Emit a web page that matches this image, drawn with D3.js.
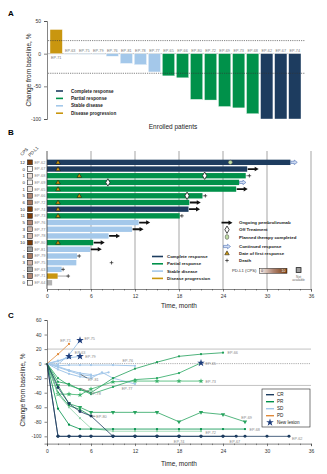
<!DOCTYPE html>
<html>
<head>
<meta charset="utf-8">
<script src="https://cdn.jsdelivr.net/npm/d3@7"></script>
<style>
  body { margin: 0; background: #fff; }
  svg { font-family: "Liberation Sans", Arial, sans-serif; }
</style>
</head>
<body>
<svg id="chart" width="327" height="474"></svg>
<script>
// Best change in target lesions, one bar per patient
const waterfallIds = ["EP-71", "EP-63", "EP-75", "EP-79", "EP-76", "EP-81", "EP-78", "EP-77", "EP-65",
  "EP-66", "EP-80", "EP-72", "EP-69", "EP-73", "EP-68", "EP-62", "EP-67", "EP-74"];
const waterfallChange = [37, -0.6, -1, -1, -4, -15, -17, -28, -34, -37, -70, -71, -81, -83, -92, -100, -100, -100];
const waterfallResponse = ["PD", "SD", "SD", "SD", "SD", "SD", "SD", "SD", "PR", "PR", "PR", "PR", "PR", "PR", "PR", "CR", "CR", "CR"];

// Swimmer lanes: time on study per patient
const laneIds = ["EP-62", "EP-67", "EP-68", "EP-69", "EP-65", "EP-66", "EP-72", "EP-74", "EP-73", "EP-76",
  "EP-77", "EP-78", "EP-80", "EP-81", "EP-79", "EP-75", "EP-63", "EP-71", "EP-64"];
const laneCps = [12, 0, 1, 0, 1, 5, 6, 10, 11, 5, 3, 3, 10, null, 6, 3, null, 5, 0];
const laneResponse = ["CR", "CR", "PR", "PR", "PR", "PR", "PR", "CR", "PR", "SD", "SD", "SD", "PR", "SD", "SD", "SD", "SD", "PD", "NE"];
const laneMonths = [33.2, 27.3, 27.1, 26.2, 25.8, 21.2, 19.4, 19.3, 18.1, 12.5, 11.6, 8.4, 6.3, 5.9, 4.1, 4.0, 2.0, 1.45, 0.7];
const firstResponse = [["EP-62", 1.5], ["EP-67", 1.5], ["EP-68", 4.4], ["EP-69", 1.5], ["EP-65", 1.5], ["EP-66", 4.4],
  ["EP-72", 1.5], ["EP-74", 1.5], ["EP-73", 1.5], ["EP-80", 1.5]];
const offTreatment = [["EP-68", 21.5], ["EP-69", 8.3], ["EP-66", 19.1]];
const therapyCompleted = [["EP-62", 25.0]];
const ongoingIds = ["EP-67", "EP-65", "EP-72", "EP-74", "EP-76", "EP-77", "EP-78", "EP-80", "EP-81"];
const continuedIds = ["EP-62", "EP-69"];
const deaths = [["EP-68", 27.6], ["EP-66", 21.6], ["EP-73", 18.4], ["EP-79", 4.4], ["EP-75", 8.8], ["EP-63", 2.2], ["EP-71", 2.9]];

// Change from baseline over time, [month, %]
const trajIds = ["EP-76", "EP-77", "EP-78", "EP-81", "EP-79", "EP-75", "EP-63", "EP-71",
  "EP-66", "EP-65", "EP-73", "EP-80", "EP-72", "EP-68", "EP-69", "EP-74", "EP-67", "EP-62"];
const trajResponse = ["SD", "SD", "SD", "SD", "SD", "SD", "SD", "PD",
  "PR", "PR", "PR", "PR", "PR", "PR", "PR", "CR", "CR", "CR"];
const trajPoints = [
  [[0, 0], [1.5, -3], [3, -2], [4.5, -2], [6, -2], [9, -2], [12, -3]],
  [[0, 0], [1.5, -8], [3, -14], [4.5, -18], [6, -20], [7.5, -12], [9, -20], [12, -28]],
  [[0, 0], [1.5, -5], [3, -10], [4.5, -15], [6, -17], [8.4, -12]],
  [[0, 0], [1.5, -4], [3, -9], [4.5, -13], [6, -15]],
  [[0, 0], [1.5, 4], [3, 8], [4.5, 10]],
  [[0, 0], [1.5, -1], [3, 12], [4.5, 32]],
  [[0, 0], [1.5, 3], [3, 10]],
  [[0, 0], [1.5, 13], [3, 27]],
  [[0, 0], [1.5, -25], [3, -28], [4.5, -36], [6, -40], [9, -20], [12, -7], [15, 2], [18, 10], [21, 13], [24, 15]],
  [[0, 0], [1.5, -20], [3, -30], [4.5, -35], [6, -42], [9, -32], [12, -22], [15, -20], [18, -13], [21, 1]],
  [[0, 0], [1.5, -42], [3, -42], [4.5, -43], [6, -35], [9, -25], [12, -24], [15, -24], [18, -24], [21, -24]],
  [[0, 0], [1.5, -40], [3, -58], [4.5, -63], [6, -72]],
  [[0, 0], [1.5, -42], [3, -60], [4.5, -75], [6, -89], [9, -93], [12, -93], [15, -93], [18, -93], [21, -93]],
  [[0, 0], [1.5, -62], [3, -84], [4.5, -90], [6, -90], [9, -90], [12, -90], [15, -90], [18, -90], [21, -90], [24, -90], [27, -90]],
  [[0, 0], [1.5, -30], [3, -55], [4.5, -60], [6, -67], [9, -67], [12, -67], [15, -67], [18, -80], [21, -67], [24, -70], [27, -80]],
  [[0, 0], [1.5, -33], [3, -55], [4.5, -66], [6, -72], [9, -100], [12, -100], [15, -100], [18, -100]],
  [[0, 0], [1.5, -100], [3, -100], [4.5, -100], [6, -100], [9, -100], [12, -100], [15, -100], [18, -100], [21, -100], [24, -100], [25.8, -100]],
  [[0, 0], [1.5, -100], [3, -100], [4.5, -100], [6, -100], [9, -100], [12, -100], [15, -100], [18, -100], [21, -100], [24, -100], [27, -100], [30, -100], [33, -100]]
];
const newLesionIds = ["EP-75", "EP-63", "EP-79", "EP-65"];

const responseNames = ["Complete response", "Partial response", "Stable disease", "Disease progression"];
const responseCodes = ["CR", "PR", "SD", "PD"];

const color = { CR: "#1d3c5f", PR: "#00914a", SD: "#a4c8ea", PD: "#c9960f", NE: "#b3b3b3" };
// the over-time panel draws progression in orange
const colorC = { ...color, PD: "#e08a3a" };
const svg = d3.select("#chart");
const tickFont = 5;

function panelLetter(x, y, t) {
  svg.append("text").attr("x", x).attr("y", y).attr("font-size", 8).attr("font-weight", "bold").text(t);
}

// ======================= A: waterfall =======================
panelLetter(8, 16, "A");
const xA = d3.scaleBand().domain(waterfallIds).range([50, 301]).paddingInner(0.12);
const yA = d3.scaleLinear().domain([-100, 50]).range([119, 21]);

const gA = svg.append("g");
gA.append("line").attr("x1", 48).attr("x2", 301).attr("y1", yA(0)).attr("y2", yA(0))
  .attr("stroke", "#b5b5b5").attr("stroke-width", 0.8);

gA.selectAll("rect.bar").data(waterfallIds).join("rect")
  .attr("class", "bar")
  .attr("x", d => xA(d))
  .attr("width", xA.bandwidth())
  .attr("y", (d, i) => Math.min(yA(waterfallChange[i]), yA(0)))
  .attr("height", (d, i) => Math.max(0.6, Math.abs(yA(waterfallChange[i]) - yA(0))))
  .attr("fill", (d, i) => color[waterfallResponse[i]])
  .attr("stroke", "#fff").attr("stroke-width", 0.4);

gA.selectAll("text.id").data(waterfallIds).join("text")
  .attr("class", "id")
  .attr("x", d => xA(d) + xA.bandwidth() / 2)
  .attr("y", (d, i) => waterfallChange[i] > 0 ? yA(0) + 5 : yA(0) - 1.5)
  .attr("text-anchor", "middle").attr("font-size", 3.8).attr("fill", "#777")
  .text(d => d);

[20, -30].forEach(v => {
  gA.append("line").attr("x1", 48).attr("x2", 305).attr("y1", yA(v)).attr("y2", yA(v))
    .attr("stroke", "#333").attr("stroke-width", 0.6).attr("stroke-dasharray", "1.2,1");
});

const axA = gA.append("g").attr("transform", "translate(47,0)")
  .call(d3.axisLeft(yA).tickValues([-100, -50, 0, 50]).tickSize(3).tickFormat(d => d));
axA.selectAll("text").attr("font-size", tickFont).attr("fill", "#333");
axA.selectAll("line, path").attr("stroke", "#333").attr("stroke-width", 0.6);

svg.append("text").attr("transform", "translate(31,70) rotate(-90)")
  .attr("text-anchor", "middle").attr("font-size", 6.5).attr("fill", "#222")
  .text("Change from baseline, %");
svg.append("text").attr("x", 173).attr("y", 129).attr("text-anchor", "middle")
  .attr("font-size", 6.5).attr("fill", "#222").text("Enrolled patients");

const legA = gA.append("g").selectAll("g").data(responseCodes).join("g")
  .attr("transform", (d, i) => `translate(56,${91 + i * 7.4})`);
legA.append("line").attr("x1", 0).attr("x2", 7).attr("stroke", d => color[d]).attr("stroke-width", 1.6);
legA.append("text").attr("x", 15).attr("y", 1.6).attr("font-size", 4.6).attr("font-weight", "bold")
  .attr("fill", "#222").text((d, i) => responseNames[i]);

// ======================= B: swimmer plot =======================
panelLetter(8, 135, "B");
const xB = d3.scaleLinear().domain([0, 36]).range([47, 311]);
const yB = d3.scaleBand().domain(laneIds).range([159, 286.1]).paddingInner(0.2).paddingOuter(0.1);
const rowY = id => yB(id) + yB.bandwidth() / 2;
const gB = svg.append("g");

gB.selectAll("line.grid").data(d3.range(6, 37, 6)).join("line")
  .attr("class", "grid")
  .attr("x1", d => xB(d)).attr("x2", d => xB(d)).attr("y1", 151).attr("y2", 289)
  .attr("stroke", "#a5a5a5").attr("stroke-width", 1);

gB.selectAll("rect.lane").data(laneIds).join("rect")
  .attr("class", "lane")
  .attr("x", xB(0)).attr("y", d => yB(d))
  .attr("width", (d, i) => xB(laneMonths[i]) - xB(0))
  .attr("height", yB.bandwidth())
  .attr("fill", (d, i) => color[laneResponse[i]]);

const monthOf = id => laneMonths[laneIds.indexOf(id)];
function arrowPath(x, y, len, shaft, head, headLen) {
  const hx = x + len - headLen;
  return `M${x},${y - shaft / 2}H${hx}V${y - head / 2}L${x + len},${y}L${hx},${y + head / 2}V${y + shaft / 2}H${x}Z`;
}

gB.selectAll("path.ongoing").data(ongoingIds).join("path")
  .attr("class", "ongoing")
  .attr("d", d => arrowPath(xB(monthOf(d)) + 0.5, rowY(d), 11, 1.8, 4.6, 4))
  .attr("fill", "#111");

gB.selectAll("path.continued").data(continuedIds).join("path")
  .attr("class", "continued")
  .attr("d", d => arrowPath(xB(monthOf(d)) + 0.3, rowY(d), 6.5, 2.2, 4.6, 3))
  .attr("fill", "#cfdcf3").attr("stroke", "#4b6fb3").attr("stroke-width", 0.6);

const crossPath = "M-1.8,0H1.8M0,-1.8V1.8";
gB.selectAll("path.death").data(deaths).join("path")
  .attr("class", "death")
  .attr("transform", d => `translate(${xB(d[1])},${rowY(d[0])})`)
  .attr("d", crossPath).attr("stroke", "#222").attr("stroke-width", 0.7);
// short connector from lane end to the death mark
gB.selectAll("line.tail").data(deaths).join("line")
  .attr("class", "tail")
  .attr("x1", d => xB(monthOf(d[0]))).attr("x2", d => xB(d[1]))
  .attr("y1", d => rowY(d[0])).attr("y2", d => rowY(d[0]))
  .attr("stroke", "#222").attr("stroke-width", 0.4)
  .attr("opacity", d => (d[1] - monthOf(d[0]) < 1.5 ? 1 : 0));

gB.selectAll("path.offtx").data(offTreatment).join("path")
  .attr("class", "offtx")
  .attr("transform", d => `translate(${xB(d[1])},${rowY(d[0])})`)
  .attr("d", d3.symbol(d3.symbolDiamond, 16)())
  .attr("fill", "#fff").attr("stroke", "#222").attr("stroke-width", 0.8);

gB.selectAll("circle.done").data(therapyCompleted).join("circle")
  .attr("class", "done")
  .attr("cx", d => xB(d[1])).attr("cy", d => rowY(d[0])).attr("r", 2.1)
  .attr("fill", "#bfdca4").attr("stroke", "#444").attr("stroke-width", 0.5);

gB.selectAll("path.first").data(firstResponse).join("path")
  .attr("class", "first")
  .attr("transform", d => `translate(${xB(d[1])},${rowY(d[0]) + 0.3})`)
  .attr("d", d3.symbol(d3.symbolTriangle, 9)())
  .attr("fill", "#c9960f").attr("stroke", "#111").attr("stroke-width", 0.5);

// CPS column
const cpsColor = d3.scaleLinear().domain([0, 5, 10]).range(["#fbf6f3", "#b08572", "#7a3a08"]).clamp(true);
gB.selectAll("text.cps").data(laneIds).join("text")
  .attr("class", "cps")
  .attr("x", 25).attr("y", d => rowY(d) + 1.6)
  .attr("text-anchor", "end").attr("font-size", 4.4).attr("fill", "#222")
  .text((d, i) => laneCps[i] === null ? "-" : laneCps[i]);
gB.selectAll("rect.cps").data(laneIds).join("rect")
  .attr("class", "cps")
  .attr("x", 27.5).attr("y", d => rowY(d) - 2.4).attr("width", 4.8).attr("height", 4.8)
  .attr("fill", (d, i) => laneCps[i] === null ? "#9d9d9d" : cpsColor(laneCps[i]))
  .attr("stroke", "#222").attr("stroke-width", 0.6);
gB.selectAll("text.lid").data(laneIds).join("text")
  .attr("class", "lid")
  .attr("x", 34.5).attr("y", d => rowY(d) + 1.4)
  .attr("font-size", 3.9).attr("fill", "#888").text(d => d);
svg.append("text").attr("transform", "translate(22,156) rotate(-45)")
  .attr("font-size", 4.4).attr("fill", "#222").text("CPS");
svg.append("text").attr("transform", "translate(30,157) rotate(-45)")
  .attr("font-size", 4.4).attr("fill", "#222").text("PD-L1");

gB.append("line").attr("x1", 47).attr("x2", 47).attr("y1", 151).attr("y2", 289)
  .attr("stroke", "#333").attr("stroke-width", 0.8);
const axB = gB.append("g").attr("transform", "translate(0,289)")
  .call(d3.axisBottom(xB).tickValues(d3.range(0, 37, 6)).tickSize(2.5));
axB.selectAll("text").attr("font-size", tickFont).attr("fill", "#333");
axB.selectAll("line, path").attr("stroke", "#333").attr("stroke-width", 0.6);
gB.append("g").attr("transform", "translate(0,289)")
  .call(d3.axisBottom(xB).tickValues(d3.range(1.5, 36, 1.5).filter(v => v % 6 !== 0)).tickSize(1.5).tickFormat(""))
  .call(g => g.select(".domain").remove())
  .selectAll("line").attr("stroke", "#333").attr("stroke-width", 0.5);
svg.append("text").attr("x", 179).attr("y", 308).attr("text-anchor", "middle")
  .attr("font-size", 6.5).attr("fill", "#222").text("Time, month");

// response legend
const legB = gB.append("g").selectAll("g").data(responseCodes).join("g")
  .attr("transform", (d, i) => `translate(152,${256.5 + i * 7.3})`);
legB.append("line").attr("x1", 0).attr("x2", 11).attr("stroke", d => color[d]).attr("stroke-width", 1.6);
legB.append("text").attr("x", 15).attr("y", 1.6).attr("font-size", 4.4).attr("font-weight", "bold")
  .attr("fill", "#222").text((d, i) => responseNames[i]);

// symbol legend
const symX = 227, symTextX = 239;
const symRows = [
  ["Ongoing pembrolizumab", 222.7], ["Off Treatment", 229.7], ["Planned therapy completed", 237],
  ["Continued response", 246.5], ["Date of first response", 253.5], ["Death", 260.5]
];
gB.append("g").selectAll("text").data(symRows).join("text")
  .attr("x", symTextX).attr("y", d => d[1] + 1.6).attr("font-size", 4.4).attr("font-weight", "bold")
  .attr("fill", "#222").text(d => d[0]);
gB.append("path").attr("d", arrowPath(symX - 5.5, symRows[0][1], 11, 1.8, 4.6, 4)).attr("fill", "#111");
gB.append("path").attr("transform", `translate(${symX},${symRows[1][1]})`)
  .attr("d", d3.symbol(d3.symbolDiamond, 16)()).attr("fill", "#fff").attr("stroke", "#222").attr("stroke-width", 0.8);
gB.append("ellipse").attr("cx", symX).attr("cy", symRows[2][1]).attr("rx", 1.8).attr("ry", 2.4)
  .attr("fill", "#bfdca4").attr("stroke", "#444").attr("stroke-width", 0.5);
gB.append("path").attr("d", arrowPath(symX - 3.5, symRows[3][1], 7, 2.2, 4.6, 3))
  .attr("fill", "#cfdcf3").attr("stroke", "#4b6fb3").attr("stroke-width", 0.6);
gB.append("path").attr("transform", `translate(${symX},${symRows[4][1]})`)
  .attr("d", d3.symbol(d3.symbolTriangle, 9)()).attr("fill", "#c9960f").attr("stroke", "#111").attr("stroke-width", 0.5);
gB.append("path").attr("transform", `translate(${symX},${symRows[5][1]})`)
  .attr("d", crossPath).attr("stroke", "#222").attr("stroke-width", 0.7);

// CPS gradient key
const defs = svg.append("defs");
const grad = defs.append("linearGradient").attr("id", "cpsGrad");
[0, 5, 10].forEach(v => grad.append("stop").attr("offset", `${v * 10}%`).attr("stop-color", cpsColor(v)));
gB.append("text").attr("x", 232).attr("y", 272.3).attr("font-size", 4.2).attr("fill", "#333").text("PD-L1 (CPS)");
gB.append("rect").attr("x", 259.5).attr("y", 268.3).attr("width", 27.5).attr("height", 5)
  .attr("fill", "url(#cpsGrad)").attr("stroke", "#222").attr("stroke-width", 0.5);
gB.append("text").attr("x", 261).attr("y", 272.1).attr("font-size", 3.6).attr("fill", "#333").text("0");
gB.append("text").attr("x", 285.5).attr("y", 272.1).attr("text-anchor", "end").attr("font-size", 3.6).attr("fill", "#fff").text("10");
gB.append("rect").attr("x", 296.2).attr("y", 267.6).attr("width", 4.8).attr("height", 4.8)
  .attr("fill", "#9d9d9d").attr("stroke", "#222").attr("stroke-width", 0.8);
gB.append("text").attr("x", 298.6).attr("y", 277.8).attr("text-anchor", "middle").attr("font-size", 3.2).attr("fill", "#666").text("Not");
gB.append("text").attr("x", 298.6).attr("y", 281.2).attr("text-anchor", "middle").attr("font-size", 3.2).attr("fill", "#666").text("available");

// ======================= C: change over time =======================
panelLetter(8, 318, "C");
const xC = d3.scaleLinear().domain([0, 36]).range([47, 311]);
const yC = d3.scaleLinear().domain([-110, 60]).range([443.6, 320]);
const gC = svg.append("g");

[20, -30].forEach(v => {
  gC.append("line").attr("x1", 47).attr("x2", 311).attr("y1", yC(v)).attr("y2", yC(v))
    .attr("stroke", "#a8a8a8").attr("stroke-width", 0.7);
});
gC.append("line").attr("x1", 47).attr("x2", 311).attr("y1", yC(0)).attr("y2", yC(0))
  .attr("stroke", "#777").attr("stroke-width", 0.6).attr("stroke-dasharray", "1.2,1");

const trajColor = {
  "EP-66": "#22a05a", "EP-65": "#2aa862", "EP-73": "#3cb36c", "EP-80": "#1a9a52",
  "EP-72": "#8fd2a8", "EP-68": "#00914a", "EP-69": "#27a35e"
};
const markerType = { "EP-69": "tri", "EP-73": "star" };
const lineC = d3.line().x(d => xC(d[0])).y(d => yC(d[1]));

trajIds.forEach((id, i) => {
  const c = trajColor[id] || colorC[trajResponse[i]];
  const pts = trajPoints[i];
  gC.append("path").attr("d", lineC(pts)).attr("fill", "none")
    .attr("stroke", c).attr("stroke-width", trajResponse[i] === "SD" ? 1 : 0.8);
  const kind = markerType[id];
  gC.selectAll(null).data(pts.slice(1)).join("path")
    .attr("transform", d => `translate(${xC(d[0])},${yC(d[1])})${kind === "tri" ? " rotate(180)" : ""}`)
    .attr("d", kind === "tri" ? d3.symbol(d3.symbolTriangle, 8)() :
      kind === "star" ? d3.symbol(d3.symbolStar, 9)() : d3.symbol(d3.symbolCircle, trajResponse[i] === "CR" ? 7 : 4)())
    .attr("fill", c);
});

// new lesions at the last assessment
gC.selectAll("path.newlesion").data(newLesionIds).join("path")
  .attr("class", "newlesion")
  .attr("transform", id => {
    const p = trajPoints[trajIds.indexOf(id)];
    const d = p[p.length - 1];
    return `translate(${xC(d[0])},${yC(d[1])})`;
  })
  .attr("d", d3.symbol(d3.symbolStar, 18)())
  .attr("fill", "#1d3c7a");

// patient tags near each trajectory
const tagAt = {
  "EP-71": [1.8, 31], "EP-75": [5.1, 34], "EP-63": [3.8, 15], "EP-79": [5.2, 9.5], "EP-76": [10.3, 4],
  "EP-81": [5.6, -22], "EP-77": [10.2, -34], "EP-78": [5.9, -41], "EP-66": [24.6, 14.5], "EP-65": [21.6, 0],
  "EP-73": [21.6, -25], "EP-80": [6.7, -73], "EP-69": [26.5, -75], "EP-68": [27.6, -91],
  "EP-72": [21.6, -95], "EP-74": [17.3, -107], "EP-67": [24.9, -107], "EP-62": [33.4, -103]
};
gC.selectAll("text.tag").data(trajIds).join("text")
  .attr("class", "tag")
  .attr("x", d => xC(tagAt[d][0])).attr("y", d => yC(tagAt[d][1]) + 1.3)
  .attr("font-size", 3.8).attr("fill", "#888").text(d => d);
// leader lines for crowded tags
[["EP-81", [4.6, -15], [5.5, -20]], ["EP-78", [4.6, -34], [5.8, -39]], ["EP-80", [6, -72], [6.6, -72.5]]].forEach(([id, a, b]) => {
  gC.append("line").attr("x1", xC(a[0])).attr("y1", yC(a[1])).attr("x2", xC(b[0])).attr("y2", yC(b[1]))
    .attr("stroke", "#111").attr("stroke-width", 0.5);
});

const ayC = gC.append("g").attr("transform", "translate(47,0)")
  .call(d3.axisLeft(yC).tickValues(d3.range(-100, 61, 20)).tickSize(2.5).tickFormat(d => d));
ayC.selectAll("text").attr("font-size", tickFont).attr("fill", "#333");
ayC.selectAll("line, path").attr("stroke", "#333").attr("stroke-width", 0.6);
const axC = gC.append("g").attr("transform", "translate(0,443.6)")
  .call(d3.axisBottom(xC).tickValues(d3.range(0, 37, 6)).tickSize(2.5));
axC.selectAll("text").attr("font-size", tickFont).attr("fill", "#333");
axC.selectAll("line, path").attr("stroke", "#333").attr("stroke-width", 0.6);
gC.append("g").attr("transform", "translate(0,443.6)")
  .call(d3.axisBottom(xC).tickValues(d3.range(1.5, 36, 1.5).filter(v => v % 6 !== 0)).tickSize(1.5).tickFormat(""))
  .call(g => g.select(".domain").remove())
  .selectAll("line").attr("stroke", "#333").attr("stroke-width", 0.5);

svg.append("text").attr("transform", "translate(25,390) rotate(-90)")
  .attr("text-anchor", "middle").attr("font-size", 6.5).attr("fill", "#222")
  .text("Change from baseline, %");
svg.append("text").attr("x", 179).attr("y", 466).attr("text-anchor", "middle")
  .attr("font-size", 6.5).attr("fill", "#222").text("Time, month");

// legend box
const legC = gC.append("g").attr("transform", "translate(262,389)");
legC.append("rect").attr("width", 48).attr("height", 38).attr("fill", "#fff")
  .attr("stroke", "#222").attr("stroke-width", 0.6);
const legCItems = legC.selectAll("g").data(["CR", "PR", "SD", "PD"]).join("g")
  .attr("transform", (d, i) => `translate(4,${5.7 + i * 7})`);
legCItems.append("line").attr("x1", 0).attr("x2", 8).attr("stroke", d => colorC[d]).attr("stroke-width", 1.4);
legCItems.append("text").attr("x", 11).attr("y", 1.7).attr("font-size", 4.6).attr("fill", "#222").text(d => d);
legC.append("path").attr("transform", "translate(8,33.4)").attr("d", d3.symbol(d3.symbolStar, 18)()).attr("fill", "#1d3c7a");
legC.append("text").attr("x", 15).attr("y", 35.1).attr("font-size", 4.6).attr("fill", "#222").text("New lesion");
</script>
</body>
</html>
